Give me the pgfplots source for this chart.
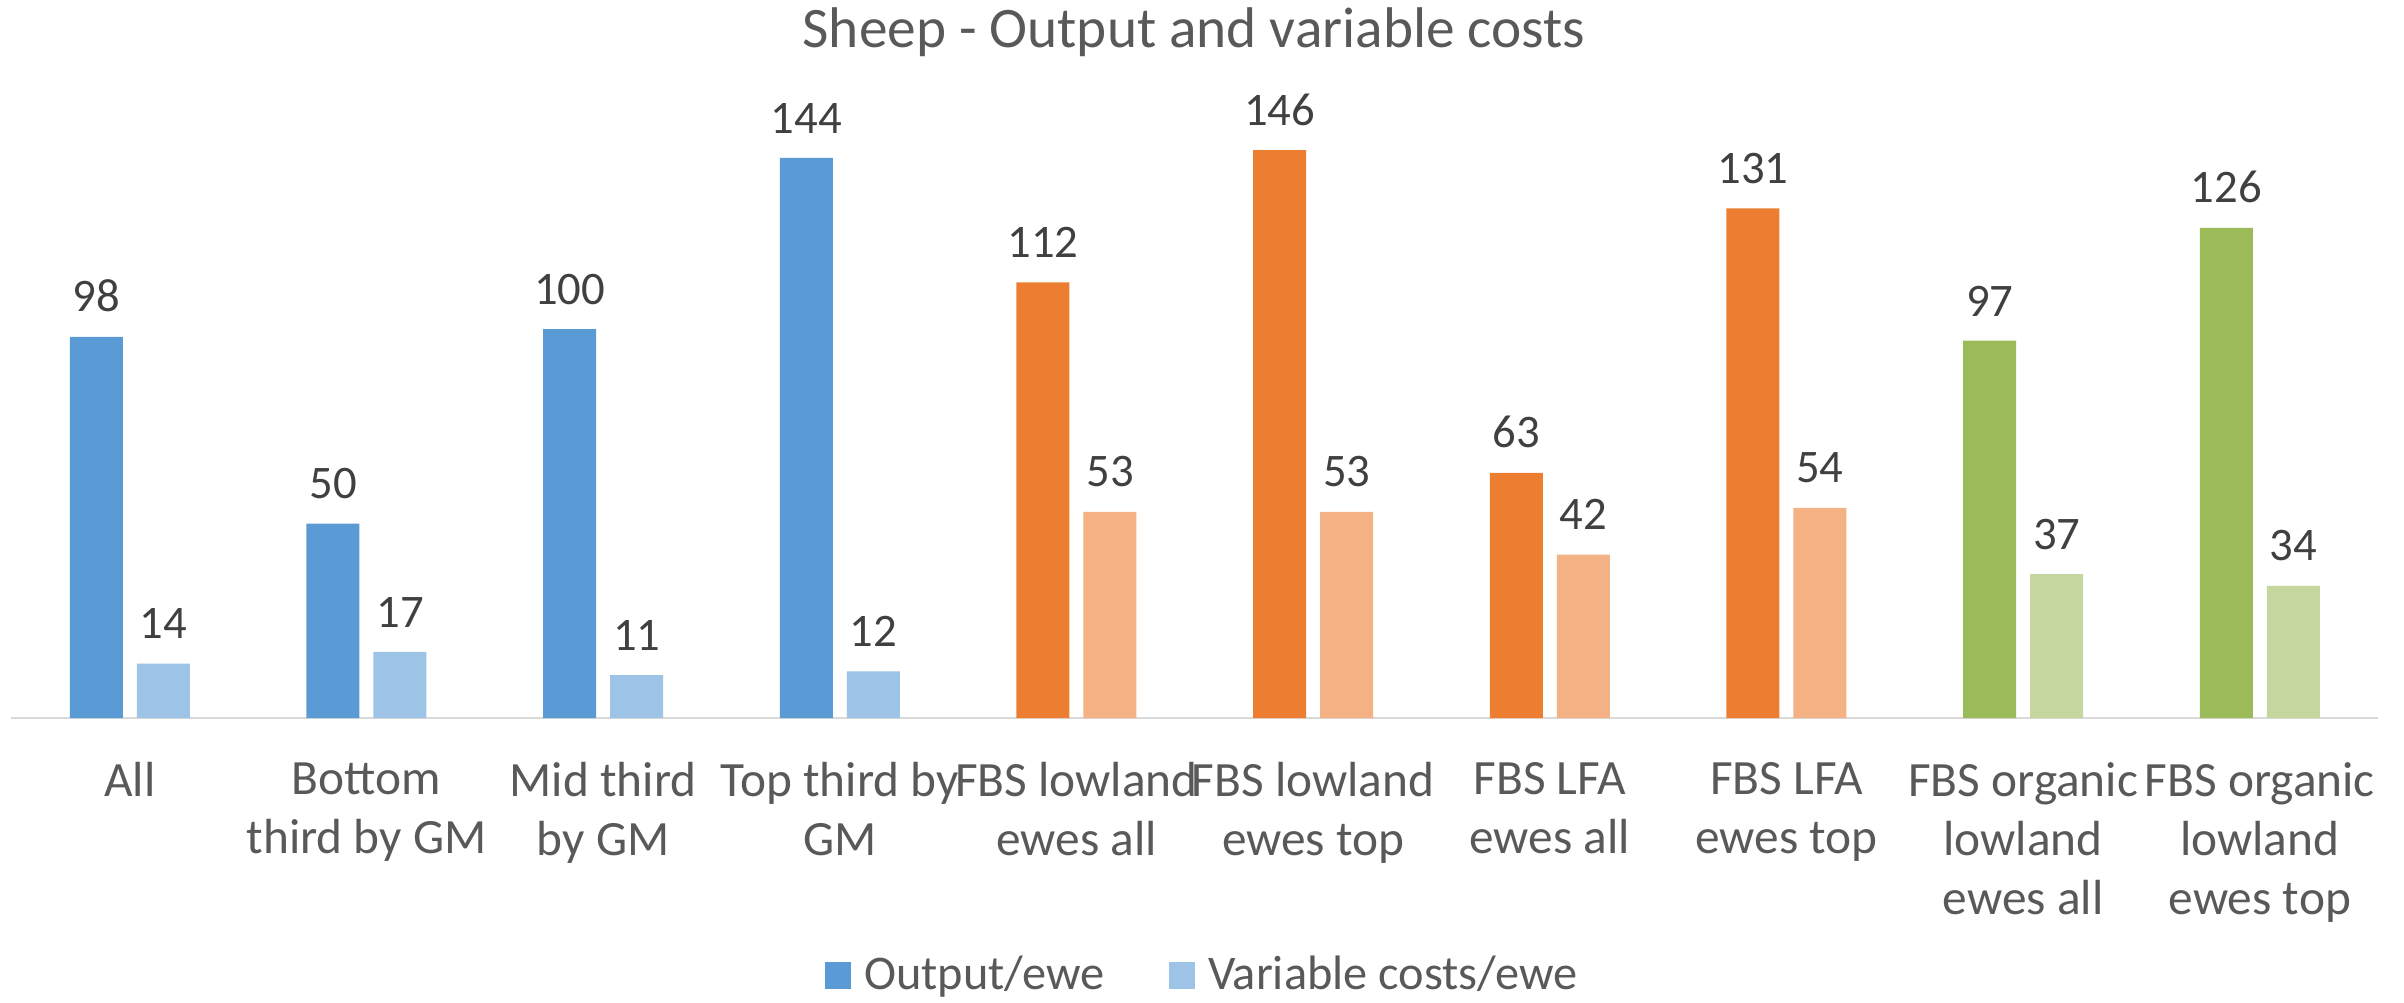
\documentclass[border=0pt]{standalone}
\usepackage{pgfplots}
\pgfplotsset{compat=1.18}
\usepackage{fontspec}
\setmainfont{Carlito}
\definecolor{cOut}{HTML}{5B9BD5}
\definecolor{cOutL}{HTML}{9DC3E6}
\definecolor{cOr}{HTML}{ED7D31}
\definecolor{cOrL}{HTML}{F4B183}
\definecolor{cGr}{HTML}{9BBB59}
\definecolor{cGrL}{HTML}{C5D79F}
\definecolor{lblgray}{HTML}{595959}
\definecolor{datgray}{HTML}{404040}
\definecolor{axgray}{HTML}{D9D9D9}
\pgfplotsset{
  outbar/.style={ybar, bar width=15.9pt, bar shift=-10.05pt, draw=none,
    every node near coord/.append style={xshift=-10.05pt}},
  varbar/.style={ybar, bar width=15.9pt, bar shift=10.05pt, draw=none,
    every node near coord/.append style={xshift=10.05pt}},
}
\begin{document}
\begin{tikzpicture}[x=1pt,y=1pt]
\path[use as bounding box] (0,0) rectangle (721.2,300.6);
\node[font=\fontsize{17.2}{20.6}\selectfont, text=lblgray, anchor=base, inner sep=0pt] at (358.2,286.2) {Sheep - Output and variable costs};
\begin{axis}[
  at={(3.45pt,85.2pt)}, anchor=south west,
  scale only axis, width=710pt, height=186.7pt,
  xmin=-0.5, xmax=9.5, ymin=0, ymax=160,
  hide y axis,
  axis x line*=bottom,
  x axis line style={draw=axgray, line width=0.6pt, -},
  xtick={0,...,9},
  major tick length=0pt,
  xticklabels={All, {Bottom\\third by GM}, {Mid third\\by GM}, {Top third by\\GM}, {FBS lowland\\ewes all}, {FBS lowland\\ewes top}, {FBS LFA\\ewes all}, {FBS LFA\\ewes top}, {FBS organic\\lowland\\ewes all}, {FBS organic\\lowland\\ewes top}},
  xticklabel style={align=center, font=\fontsize{14.8}{17.7}\selectfont, text=lblgray, inner sep=0pt, yshift=-13.2pt},
  /pgf/number format/assume math mode=true,
  nodes near coords,
  nodes near coords style={font=\fontsize{14}{16.8}\selectfont, text=datgray, anchor=south, inner sep=0pt, yshift=7.2pt},
  legend style={at={(0.5026,-0.414)}, anchor=center, legend columns=2, draw=none, fill=none,
    font=\fontsize{14.5}{17.4}\selectfont, text=lblgray,
    nodes={inner sep=0pt},
    /tikz/every odd column/.append style={column sep=3.9pt},
    /tikz/every even column/.append style={column sep=19.2pt},
    legend cell align=left},
  legend image code/.code={\fill[#1] (0pt,-4pt) rectangle (8pt,4pt);},
  clip=false,
]
\addplot[outbar, fill=cOut] coordinates {(0,98) (1,50) (2,100) (3,144)};
\addlegendentry{Output/ewe}
\addplot[varbar, fill=cOutL] coordinates {(0,14) (1,17) (2,11) (3,12)};
\addlegendentry{Variable costs/ewe}
\addplot[outbar, fill=cOr, forget plot] coordinates {(4,112) (5,146) (6,63) (7,131)};
\addplot[varbar, fill=cOrL, forget plot] coordinates {(4,53) (5,53) (6,42) (7,54)};
\addplot[outbar, fill=cGr, forget plot] coordinates {(8,97) (9,126)};
\addplot[varbar, fill=cGrL, forget plot] coordinates {(8,37) (9,34)};
\end{axis}
\end{tikzpicture}
\end{document}
